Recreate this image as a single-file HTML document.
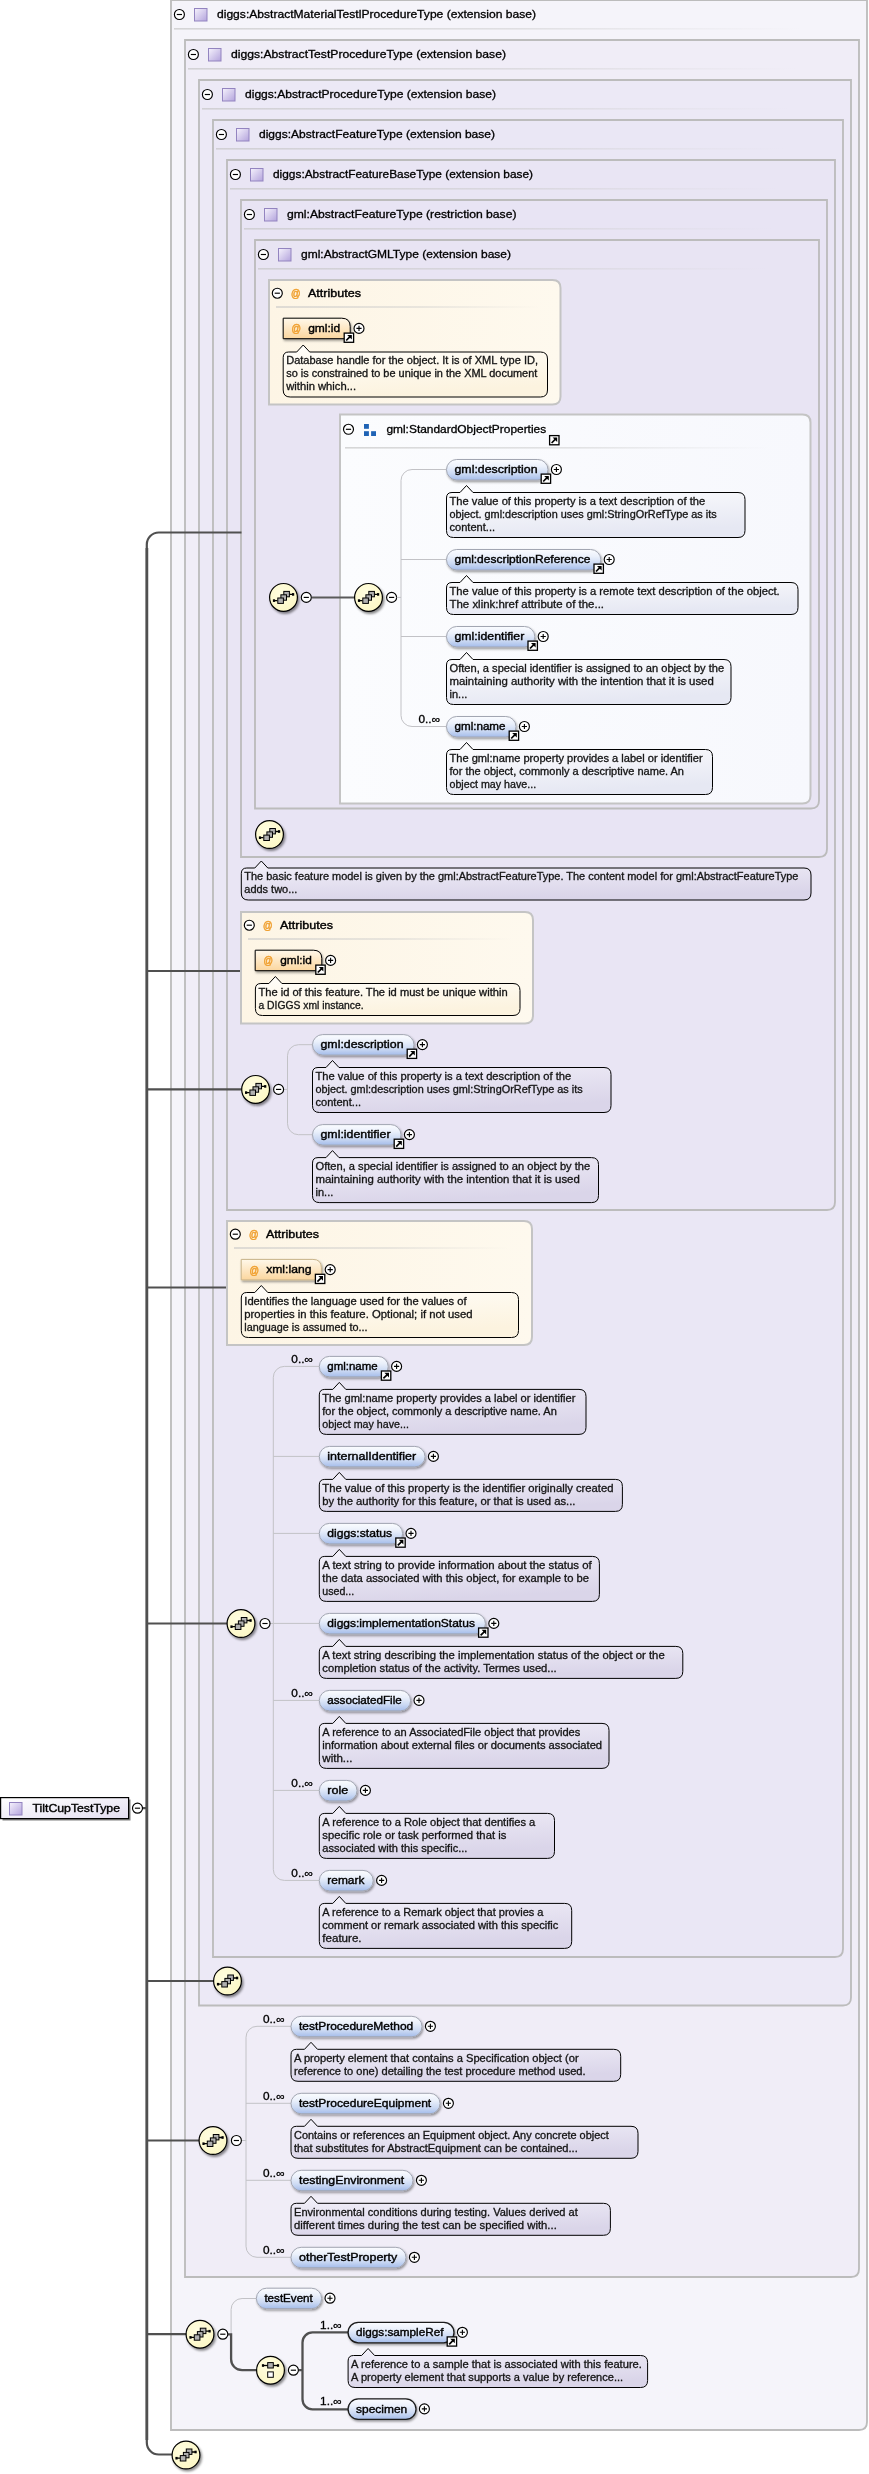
<!DOCTYPE html>
<html><head><meta charset="utf-8"><title>TiltCupTestType</title>
<style>
html,body{margin:0;padding:0;background:#fff;}
svg{display:block;font-family:"Liberation Sans",sans-serif;will-change:transform;}
text{white-space:pre;}
</style></head><body>
<svg width="869" height="2474" viewBox="0 0 869 2474">
<defs>
<linearGradient id="gType" x1="0" y1="0" x2="1" y2="1"><stop offset="0" stop-color="#f6f3fd"/><stop offset="1" stop-color="#b3a3dc"/></linearGradient>
<linearGradient id="gSep" x1="0" y1="0" x2="1" y2="0"><stop offset="0" stop-color="#c6c6c6" stop-opacity="0.7"/><stop offset="0.55" stop-color="#cacaca" stop-opacity="0.5"/><stop offset="1" stop-color="#d0d0d0" stop-opacity="0"/></linearGradient>
<linearGradient id="gElt" x1="0" y1="0" x2="0" y2="1"><stop offset="0" stop-color="#fbfcff"/><stop offset="0.35" stop-color="#eaf0fb"/><stop offset="0.7" stop-color="#cbd9f3"/><stop offset="1" stop-color="#a4bcea"/></linearGradient>
<linearGradient id="gAttr" x1="0" y1="0" x2="0" y2="1"><stop offset="0" stop-color="#fff8ea"/><stop offset="1" stop-color="#fbd69e"/></linearGradient>
<linearGradient id="gAttrBox" x1="0" y1="0" x2="1" y2="0"><stop offset="0" stop-color="#fdf5e5"/><stop offset="1" stop-color="#fef9ee"/></linearGradient>
<linearGradient id="gGroup" x1="0" y1="0" x2="1" y2="0"><stop offset="0" stop-color="#fbfcfe"/><stop offset="1" stop-color="#f7f8fd"/></linearGradient>
<linearGradient id="gAnnP" x1="0" y1="0" x2="0.3" y2="1"><stop offset="0" stop-color="#f3f1fa"/><stop offset="1" stop-color="#dad5e9"/></linearGradient>
<linearGradient id="gAnnY" x1="0" y1="0" x2="0.3" y2="1"><stop offset="0" stop-color="#fffefb"/><stop offset="1" stop-color="#fcf3df"/></linearGradient>
<linearGradient id="gAnnB" x1="0" y1="0" x2="0.3" y2="1"><stop offset="0" stop-color="#ffffff"/><stop offset="1" stop-color="#e6e8f3"/></linearGradient>
<linearGradient id="gRoot" x1="0" y1="0" x2="1" y2="1"><stop offset="0" stop-color="#ffffff"/><stop offset="1" stop-color="#e3def1"/></linearGradient>
<radialGradient id="gComp" cx="0.4" cy="0.35" r="0.8"><stop offset="0" stop-color="#fffde0"/><stop offset="1" stop-color="#fbf6c0"/></radialGradient>
<filter id="sh" x="-30%" y="-30%" width="170%" height="170%"><feDropShadow dx="1.5" dy="2" stdDeviation="1.2" flood-color="#000" flood-opacity="0.45"/></filter>
<filter id="sh2" x="-10%" y="-30%" width="125%" height="190%"><feDropShadow dx="1" dy="1.6" stdDeviation="0.9" flood-color="#000" flood-opacity="0.4"/></filter>
</defs>

<path d="M171 0H867V2422Q867 2430 859 2430H171Z" fill="#f5f4fa" stroke="#bcbcbc" stroke-width="1.85"/>
<path d="M185 40H859V2269Q859 2277 851 2277H185Z" fill="#f0edf7" stroke="#bcbcbc" stroke-width="1.85"/>
<path d="M199 80H851V1997.5Q851 2005.5 843 2005.5H199Z" fill="#ece9f6" stroke="#bcbcbc" stroke-width="1.85"/>
<path d="M213 120H843V1949Q843 1957 835 1957H213Z" fill="#eae7f5" stroke="#bcbcbc" stroke-width="1.85"/>
<path d="M227 160H835V1202Q835 1210 827 1210H227Z" fill="#e9e5f4" stroke="#bcbcbc" stroke-width="1.85"/>
<path d="M241 200H827V849Q827 857 819 857H241Z" fill="#e8e4f4" stroke="#bcbcbc" stroke-width="1.85"/>
<path d="M255 240H819V800.5Q819 808.5 811 808.5H255Z" fill="#e8e4f3" stroke="#bcbcbc" stroke-width="1.85"/>
<path d="M241.5 532.5H158.8A12 12 0 0 0 146.8 544.5V2442.5A12 12 0 0 0 158.8 2454.5H172M146.8 971H240M146.8 1089.4H242M146.8 1287.5H226M146.8 1623.5H227M146.8 1981H214M146.8 2140.5H199M146.8 2334.2H186M142 1808.2H146.8" fill="none" stroke="#505050" stroke-width="2.2"/>
<path d="M146.9 548V2440" fill="none" stroke="#505050" stroke-width="2.7"/>
<g transform="translate(179.40,14.50)"><circle r="5" fill="#fff" stroke="#000" stroke-width="1.15"/><path d="M-2.6 0H2.6" stroke="#000" stroke-width="1.15"/></g>
<rect x="194.50" y="8.50" width="12.5" height="12.5" fill="url(#gType)" stroke="#9384c0" stroke-width="1"/>
<text x="217.00" y="18.00" font-size="11" stroke="#000" stroke-width="0.3" textLength="319.00" lengthAdjust="spacingAndGlyphs">diggs:AbstractMaterialTestlProcedureType (extension base)</text>
<rect x="174" y="28" width="628.2" height="1.6" fill="url(#gSep)"/>
<g transform="translate(193.40,54.50)"><circle r="5" fill="#fff" stroke="#000" stroke-width="1.15"/><path d="M-2.6 0H2.6" stroke="#000" stroke-width="1.15"/></g>
<rect x="208.50" y="48.50" width="12.5" height="12.5" fill="url(#gType)" stroke="#9384c0" stroke-width="1"/>
<text x="231.00" y="58.00" font-size="11" stroke="#000" stroke-width="0.3" textLength="275.00" lengthAdjust="spacingAndGlyphs">diggs:AbstractTestProcedureType (extension base)</text>
<rect x="188" y="68" width="608.4" height="1.6" fill="url(#gSep)"/>
<g transform="translate(207.40,94.50)"><circle r="5" fill="#fff" stroke="#000" stroke-width="1.15"/><path d="M-2.6 0H2.6" stroke="#000" stroke-width="1.15"/></g>
<rect x="222.50" y="88.50" width="12.5" height="12.5" fill="url(#gType)" stroke="#9384c0" stroke-width="1"/>
<text x="245.00" y="98.00" font-size="11" stroke="#000" stroke-width="0.3" textLength="251.00" lengthAdjust="spacingAndGlyphs">diggs:AbstractProcedureType (extension base)</text>
<rect x="202" y="108" width="588.6" height="1.6" fill="url(#gSep)"/>
<g transform="translate(221.40,134.50)"><circle r="5" fill="#fff" stroke="#000" stroke-width="1.15"/><path d="M-2.6 0H2.6" stroke="#000" stroke-width="1.15"/></g>
<rect x="236.50" y="128.50" width="12.5" height="12.5" fill="url(#gType)" stroke="#9384c0" stroke-width="1"/>
<text x="259.00" y="138.00" font-size="11" stroke="#000" stroke-width="0.3" textLength="236.00" lengthAdjust="spacingAndGlyphs">diggs:AbstractFeatureType (extension base)</text>
<rect x="216" y="148" width="568.8" height="1.6" fill="url(#gSep)"/>
<g transform="translate(235.40,174.50)"><circle r="5" fill="#fff" stroke="#000" stroke-width="1.15"/><path d="M-2.6 0H2.6" stroke="#000" stroke-width="1.15"/></g>
<rect x="250.50" y="168.50" width="12.5" height="12.5" fill="url(#gType)" stroke="#9384c0" stroke-width="1"/>
<text x="273.00" y="178.00" font-size="11" stroke="#000" stroke-width="0.3" textLength="260.00" lengthAdjust="spacingAndGlyphs">diggs:AbstractFeatureBaseType (extension base)</text>
<rect x="230" y="188" width="549.0" height="1.6" fill="url(#gSep)"/>
<g transform="translate(249.40,214.50)"><circle r="5" fill="#fff" stroke="#000" stroke-width="1.15"/><path d="M-2.6 0H2.6" stroke="#000" stroke-width="1.15"/></g>
<rect x="264.50" y="208.50" width="12.5" height="12.5" fill="url(#gType)" stroke="#9384c0" stroke-width="1"/>
<text x="287.00" y="218.00" font-size="11" stroke="#000" stroke-width="0.3" textLength="229.50" lengthAdjust="spacingAndGlyphs">gml:AbstractFeatureType (restriction base)</text>
<rect x="244" y="228" width="529.2" height="1.6" fill="url(#gSep)"/>
<g transform="translate(263.40,254.50)"><circle r="5" fill="#fff" stroke="#000" stroke-width="1.15"/><path d="M-2.6 0H2.6" stroke="#000" stroke-width="1.15"/></g>
<rect x="278.50" y="248.50" width="12.5" height="12.5" fill="url(#gType)" stroke="#9384c0" stroke-width="1"/>
<text x="301.00" y="258.00" font-size="11" stroke="#000" stroke-width="0.3" textLength="210.00" lengthAdjust="spacingAndGlyphs">gml:AbstractGMLType (extension base)</text>
<rect x="258" y="268" width="509.4" height="1.6" fill="url(#gSep)"/>
<rect x="2.5" y="1799.5" width="128" height="21" fill="#555" opacity="0.75"/>
<rect x="0.6" y="1797.6" width="128" height="21" fill="url(#gRoot)" stroke="#000" stroke-width="1.2"/>
<rect x="9.50" y="1802.50" width="12.5" height="12.5" fill="url(#gType)" stroke="#9384c0" stroke-width="1"/>
<text x="32.50" y="1812.00" font-size="11" stroke="#000" stroke-width="0.38" textLength="87.50" lengthAdjust="spacingAndGlyphs">TiltCupTestType</text>
<g transform="translate(137.50,1808.20)"><circle r="5" fill="#fff" stroke="#000" stroke-width="1.15"/><path d="M-2.6 0H2.6" stroke="#000" stroke-width="1.15"/></g>
<path d="M269 280H552.5Q560.5 280 560.5 288V396.5Q560.5 404.5 552.5 404.5H269Z" fill="url(#gAttrBox)" stroke="#c4c4c4" stroke-width="2"/>
<g transform="translate(277.30,293.20)"><circle r="5" fill="#fff" stroke="#000" stroke-width="1.15"/><path d="M-2.6 0H2.6" stroke="#000" stroke-width="1.15"/></g>
<text x="291.00" y="297.00" font-size="10.2" textLength="9.5" lengthAdjust="spacingAndGlyphs" fill="#f0a030" stroke="#f0a030" stroke-width="0.5">@</text>
<text x="308.00" y="296.50" font-size="11" stroke="#000" stroke-width="0.38" textLength="53.00" lengthAdjust="spacingAndGlyphs">Attributes</text>
<rect x="276" y="306.2" width="264.2" height="1.6" fill="url(#gSep)"/>
<path d="M283.20 318.20H341.70Q350.20 318.20 350.20 326.70V338.70H283.20Z" fill="url(#gAttr)" stroke="#000" stroke-width="1" filter="url(#sh2)"/>
<text x="291.40" y="332.30" font-size="10.2" textLength="9.5" lengthAdjust="spacingAndGlyphs" fill="#f0a030" stroke="#f0a030" stroke-width="0.5">@</text>
<text x="308.20" y="331.90" font-size="11" stroke="#000" stroke-width="0.38" textLength="32.00" lengthAdjust="spacingAndGlyphs">gml:id</text>
<g transform="translate(343.60,332.50)"><rect x="0.6" y="0.6" width="9.4" height="9.2" fill="#fff" stroke="#000" stroke-width="1.3"/><path d="M2.6 8L7.2 3.4" stroke="#000" stroke-width="1.7" fill="none"/><path d="M3.6 2.4H8.2V7z" fill="#000"/></g>
<g transform="translate(359.00,328.40)"><circle r="5" fill="#fff" stroke="#000" stroke-width="1.15"/><path d="M-2.6 0H2.6M0 -2.6V2.6" stroke="#000" stroke-width="1.1"/></g>
<path d="M288.70 352.00H296.70L303.20 345.00L309.70 352.00H540.50Q547.50 352.00 547.50 359.00V390.00Q547.50 397.00 540.50 397.00H290.20Q283.20 397.00 283.20 390.00V357.50Q283.20 352.00 288.70 352.00Z" fill="url(#gAnnY)" stroke="#000" stroke-width="1"/>
<text x="286.20" y="364.40" font-size="10" stroke="#151515" stroke-width="0.3" textLength="251.80" lengthAdjust="spacingAndGlyphs" fill="#151515">Database handle for the object. It is of XML type ID,</text>
<text x="286.20" y="377.40" font-size="10" stroke="#151515" stroke-width="0.3" textLength="251.10" lengthAdjust="spacingAndGlyphs" fill="#151515">so is constrained to be unique in the XML document</text>
<text x="286.20" y="390.40" font-size="10" stroke="#151515" stroke-width="0.3" textLength="69.90" lengthAdjust="spacingAndGlyphs" fill="#151515">within which...</text>
<path d="M340 414.5H802.5Q810.5 414.5 810.5 422.5V795.5Q810.5 803.5 802.5 803.5H340Z" fill="url(#gGroup)" stroke="#c4c4c4" stroke-width="2"/>
<g transform="translate(348.50,429.30)"><circle r="5" fill="#fff" stroke="#000" stroke-width="1.15"/><path d="M-2.6 0H2.6" stroke="#000" stroke-width="1.15"/></g>
<rect x="364" y="424" width="4.9" height="4.8" fill="#1f63b5"/>
<rect x="364" y="431.2" width="4.9" height="4.8" fill="#1f63b5"/>
<rect x="371.1" y="431.2" width="4.9" height="4.8" fill="#1f63b5"/>
<text x="386.40" y="433.00" font-size="11" stroke="#000" stroke-width="0.3" textLength="159.80" lengthAdjust="spacingAndGlyphs">gml:StandardObjectProperties</text>
<g transform="translate(549.00,435.00)"><rect x="0.6" y="0.6" width="9.4" height="9.2" fill="#fff" stroke="#000" stroke-width="1.3"/><path d="M2.6 8L7.2 3.4" stroke="#000" stroke-width="1.7" fill="none"/><path d="M3.6 2.4H8.2V7z" fill="#000"/></g>
<rect x="345" y="447" width="425.2" height="1.6" fill="url(#gSep)"/>
<path d="M312 597.4H355" stroke="#5a5a5a" stroke-width="2"/>
<g transform="translate(283.50,597.40)"><circle r="13.9" fill="url(#gComp)" stroke="#000" stroke-width="1.2" filter="url(#sh)"/><path d="M-10 3.2H-6M6 -3H10" stroke="#000" stroke-width="1.3"/><rect x="-10.6" y="1.9" width="2.2" height="2.6" fill="#000"/><rect x="8.5" y="-4.3" width="2.2" height="2.6" fill="#000"/><rect x="0.3" y="-6" width="5.6" height="5.4" fill="#b0b0b0" stroke="#000" stroke-width="1"/><rect x="-2.6" y="-2.6" width="5.6" height="5.4" fill="#b0b0b0" stroke="#000" stroke-width="1"/><rect x="-5.7" y="0.6" width="5.6" height="5.4" fill="#b0b0b0" stroke="#000" stroke-width="1"/></g>
<g transform="translate(306.30,597.40)"><circle r="5" fill="#fff" stroke="#000" stroke-width="1.15"/><path d="M-2.6 0H2.6" stroke="#000" stroke-width="1.15"/></g>
<g transform="translate(368.50,597.40)"><circle r="13.9" fill="url(#gComp)" stroke="#000" stroke-width="1.2" filter="url(#sh)"/><path d="M-10 3.2H-6M6 -3H10" stroke="#000" stroke-width="1.3"/><rect x="-10.6" y="1.9" width="2.2" height="2.6" fill="#000"/><rect x="8.5" y="-4.3" width="2.2" height="2.6" fill="#000"/><rect x="0.3" y="-6" width="5.6" height="5.4" fill="#b0b0b0" stroke="#000" stroke-width="1"/><rect x="-2.6" y="-2.6" width="5.6" height="5.4" fill="#b0b0b0" stroke="#000" stroke-width="1"/><rect x="-5.7" y="0.6" width="5.6" height="5.4" fill="#b0b0b0" stroke="#000" stroke-width="1"/></g>
<g transform="translate(391.60,597.40)"><circle r="5" fill="#fff" stroke="#000" stroke-width="1.15"/><path d="M-2.6 0H2.6" stroke="#000" stroke-width="1.15"/></g>
<path d="M446.50 469.50H412.00A11 11 0 0 0 401.00 480.50V715.50A11 11 0 0 0 412.00 726.50H446.50M401.00 559.50H446.50M401.00 636.50H446.50" fill="none" stroke="#c2c2c6" stroke-width="1"/>
<path d="M396.6 597.4H401" stroke="#c2c2c6" stroke-width="1"/>
<rect x="446.50" y="459.50" width="101.50" height="20.5" rx="10.2" fill="url(#gElt)" stroke="#a2a6b2" stroke-width="1" filter="url(#sh2)"/>
<text x="454.50" y="473.10" font-size="11" stroke="#000" stroke-width="0.38" textLength="83.00" lengthAdjust="spacingAndGlyphs">gml:description</text>
<g transform="translate(540.60,473.50)"><rect x="0.6" y="0.6" width="9.4" height="9.2" fill="#fff" stroke="#000" stroke-width="1.3"/><path d="M2.6 8L7.2 3.4" stroke="#000" stroke-width="1.7" fill="none"/><path d="M3.6 2.4H8.2V7z" fill="#000"/></g>
<g transform="translate(556.40,469.50)"><circle r="5" fill="#fff" stroke="#000" stroke-width="1.15"/><path d="M-2.6 0H2.6M0 -2.6V2.6" stroke="#000" stroke-width="1.1"/></g>
<path d="M452.00 492.50H460.00L466.50 485.50L473.00 492.50H738.00Q745.00 492.50 745.00 499.50V530.50Q745.00 537.50 738.00 537.50H453.50Q446.50 537.50 446.50 530.50V498.00Q446.50 492.50 452.00 492.50Z" fill="url(#gAnnB)" stroke="#000" stroke-width="1"/>
<text x="449.50" y="504.90" font-size="10" stroke="#151515" stroke-width="0.3" textLength="255.70" lengthAdjust="spacingAndGlyphs" fill="#151515">The value of this property is a text description of the</text>
<text x="449.50" y="517.90" font-size="10" stroke="#151515" stroke-width="0.3" textLength="267.20" lengthAdjust="spacingAndGlyphs" fill="#151515">object. gml:description uses gml:StringOrRefType as its</text>
<text x="449.50" y="530.90" font-size="10" stroke="#151515" stroke-width="0.3" textLength="45.60" lengthAdjust="spacingAndGlyphs" fill="#151515">content...</text>
<rect x="446.50" y="549.50" width="154.30" height="20.5" rx="10.2" fill="url(#gElt)" stroke="#a2a6b2" stroke-width="1" filter="url(#sh2)"/>
<text x="454.50" y="563.10" font-size="11" stroke="#000" stroke-width="0.38" textLength="135.80" lengthAdjust="spacingAndGlyphs">gml:descriptionReference</text>
<g transform="translate(593.40,563.50)"><rect x="0.6" y="0.6" width="9.4" height="9.2" fill="#fff" stroke="#000" stroke-width="1.3"/><path d="M2.6 8L7.2 3.4" stroke="#000" stroke-width="1.7" fill="none"/><path d="M3.6 2.4H8.2V7z" fill="#000"/></g>
<g transform="translate(609.20,559.50)"><circle r="5" fill="#fff" stroke="#000" stroke-width="1.15"/><path d="M-2.6 0H2.6M0 -2.6V2.6" stroke="#000" stroke-width="1.1"/></g>
<path d="M452.00 582.50H460.00L466.50 575.50L473.00 582.50H791.00Q798.00 582.50 798.00 589.50V607.50Q798.00 614.50 791.00 614.50H453.50Q446.50 614.50 446.50 607.50V588.00Q446.50 582.50 452.00 582.50Z" fill="url(#gAnnB)" stroke="#000" stroke-width="1"/>
<text x="449.50" y="594.90" font-size="10" stroke="#151515" stroke-width="0.3" textLength="330.20" lengthAdjust="spacingAndGlyphs" fill="#151515">The value of this property is a remote text description of the object.</text>
<text x="449.50" y="607.90" font-size="10" stroke="#151515" stroke-width="0.3" textLength="154.50" lengthAdjust="spacingAndGlyphs" fill="#151515">The xlink:href attribute of the...</text>
<rect x="446.50" y="626.50" width="88.30" height="20.5" rx="10.2" fill="url(#gElt)" stroke="#a2a6b2" stroke-width="1" filter="url(#sh2)"/>
<text x="454.50" y="640.10" font-size="11" stroke="#000" stroke-width="0.38" textLength="69.80" lengthAdjust="spacingAndGlyphs">gml:identifier</text>
<g transform="translate(527.40,640.50)"><rect x="0.6" y="0.6" width="9.4" height="9.2" fill="#fff" stroke="#000" stroke-width="1.3"/><path d="M2.6 8L7.2 3.4" stroke="#000" stroke-width="1.7" fill="none"/><path d="M3.6 2.4H8.2V7z" fill="#000"/></g>
<g transform="translate(543.20,636.50)"><circle r="5" fill="#fff" stroke="#000" stroke-width="1.15"/><path d="M-2.6 0H2.6M0 -2.6V2.6" stroke="#000" stroke-width="1.1"/></g>
<path d="M452.00 659.50H460.00L466.50 652.50L473.00 659.50H724.00Q731.00 659.50 731.00 666.50V697.50Q731.00 704.50 724.00 704.50H453.50Q446.50 704.50 446.50 697.50V665.00Q446.50 659.50 452.00 659.50Z" fill="url(#gAnnB)" stroke="#000" stroke-width="1"/>
<text x="449.50" y="671.90" font-size="10" stroke="#151515" stroke-width="0.3" textLength="274.70" lengthAdjust="spacingAndGlyphs" fill="#151515">Often, a special identifier is assigned to an object by the</text>
<text x="449.50" y="684.90" font-size="10" stroke="#151515" stroke-width="0.3" textLength="264.30" lengthAdjust="spacingAndGlyphs" fill="#151515">maintaining authority with the intention that it is used</text>
<text x="449.50" y="697.90" font-size="10" stroke="#151515" stroke-width="0.3" textLength="17.80" lengthAdjust="spacingAndGlyphs" fill="#151515">in...</text>
<rect x="446.50" y="716.50" width="69.50" height="20.5" rx="10.2" fill="url(#gElt)" stroke="#a2a6b2" stroke-width="1" filter="url(#sh2)"/>
<text x="454.50" y="730.10" font-size="11" stroke="#000" stroke-width="0.38" textLength="51.00" lengthAdjust="spacingAndGlyphs">gml:name</text>
<g transform="translate(508.60,730.50)"><rect x="0.6" y="0.6" width="9.4" height="9.2" fill="#fff" stroke="#000" stroke-width="1.3"/><path d="M2.6 8L7.2 3.4" stroke="#000" stroke-width="1.7" fill="none"/><path d="M3.6 2.4H8.2V7z" fill="#000"/></g>
<g transform="translate(524.40,726.50)"><circle r="5" fill="#fff" stroke="#000" stroke-width="1.15"/><path d="M-2.6 0H2.6M0 -2.6V2.6" stroke="#000" stroke-width="1.1"/></g>
<text x="418.50" y="723.00" font-size="10.5" stroke="#000" stroke-width="0.3" textLength="21.60" lengthAdjust="spacingAndGlyphs">0..∞</text>
<path d="M452.00 749.50H460.00L466.50 742.50L473.00 749.50H705.50Q712.50 749.50 712.50 756.50V787.50Q712.50 794.50 705.50 794.50H453.50Q446.50 794.50 446.50 787.50V755.00Q446.50 749.50 452.00 749.50Z" fill="url(#gAnnB)" stroke="#000" stroke-width="1"/>
<text x="449.50" y="761.90" font-size="10" stroke="#151515" stroke-width="0.3" textLength="253.10" lengthAdjust="spacingAndGlyphs" fill="#151515">The gml:name property provides a label or identifier</text>
<text x="449.50" y="774.90" font-size="10" stroke="#151515" stroke-width="0.3" textLength="234.50" lengthAdjust="spacingAndGlyphs" fill="#151515">for the object, commonly a descriptive name. An</text>
<text x="449.50" y="787.90" font-size="10" stroke="#151515" stroke-width="0.3" textLength="86.60" lengthAdjust="spacingAndGlyphs" fill="#151515">object may have...</text>
<g transform="translate(269.50,834.50)"><circle r="13.9" fill="url(#gComp)" stroke="#000" stroke-width="1.2" filter="url(#sh)"/><path d="M-10 3.2H-6M6 -3H10" stroke="#000" stroke-width="1.3"/><rect x="-10.6" y="1.9" width="2.2" height="2.6" fill="#000"/><rect x="8.5" y="-4.3" width="2.2" height="2.6" fill="#000"/><rect x="0.3" y="-6" width="5.6" height="5.4" fill="#b0b0b0" stroke="#000" stroke-width="1"/><rect x="-2.6" y="-2.6" width="5.6" height="5.4" fill="#b0b0b0" stroke="#000" stroke-width="1"/><rect x="-5.7" y="0.6" width="5.6" height="5.4" fill="#b0b0b0" stroke="#000" stroke-width="1"/></g>
<path d="M246.80 868.00H254.80L261.30 861.00L267.80 868.00H804.00Q811.00 868.00 811.00 875.00V893.00Q811.00 900.00 804.00 900.00H248.30Q241.30 900.00 241.30 893.00V873.50Q241.30 868.00 246.80 868.00Z" fill="url(#gAnnP)" stroke="#000" stroke-width="1"/>
<text x="244.30" y="880.40" font-size="10" stroke="#151515" stroke-width="0.3" textLength="554.10" lengthAdjust="spacingAndGlyphs" fill="#151515">The basic feature model is given by the gml:AbstractFeatureType. The content model for gml:AbstractFeatureType</text>
<text x="244.30" y="893.40" font-size="10" stroke="#151515" stroke-width="0.3" textLength="53.00" lengthAdjust="spacingAndGlyphs" fill="#151515">adds two...</text>
<path d="M241 912H525Q533 912 533 920V1015.5Q533 1023.5 525 1023.5H241Z" fill="url(#gAttrBox)" stroke="#c4c4c4" stroke-width="2"/>
<g transform="translate(249.30,925.20)"><circle r="5" fill="#fff" stroke="#000" stroke-width="1.15"/><path d="M-2.6 0H2.6" stroke="#000" stroke-width="1.15"/></g>
<text x="263.00" y="929.00" font-size="10.2" textLength="9.5" lengthAdjust="spacingAndGlyphs" fill="#f0a030" stroke="#f0a030" stroke-width="0.5">@</text>
<text x="280.00" y="928.50" font-size="11" stroke="#000" stroke-width="0.38" textLength="53.00" lengthAdjust="spacingAndGlyphs">Attributes</text>
<rect x="248" y="938.2" width="264.6" height="1.6" fill="url(#gSep)"/>
<path d="M255.20 950.20H313.30Q321.80 950.20 321.80 958.70V970.70H255.20Z" fill="url(#gAttr)" stroke="#000" stroke-width="1" filter="url(#sh2)"/>
<text x="263.40" y="964.30" font-size="10.2" textLength="9.5" lengthAdjust="spacingAndGlyphs" fill="#f0a030" stroke="#f0a030" stroke-width="0.5">@</text>
<text x="280.20" y="963.90" font-size="11" stroke="#000" stroke-width="0.38" textLength="31.60" lengthAdjust="spacingAndGlyphs">gml:id</text>
<g transform="translate(315.20,964.50)"><rect x="0.6" y="0.6" width="9.4" height="9.2" fill="#fff" stroke="#000" stroke-width="1.3"/><path d="M2.6 8L7.2 3.4" stroke="#000" stroke-width="1.7" fill="none"/><path d="M3.6 2.4H8.2V7z" fill="#000"/></g>
<g transform="translate(330.60,960.40)"><circle r="5" fill="#fff" stroke="#000" stroke-width="1.15"/><path d="M-2.6 0H2.6M0 -2.6V2.6" stroke="#000" stroke-width="1.1"/></g>
<path d="M260.90 983.50H268.90L275.40 976.50L281.90 983.50H513.00Q520.00 983.50 520.00 990.50V1008.50Q520.00 1015.50 513.00 1015.50H262.40Q255.40 1015.50 255.40 1008.50V989.00Q255.40 983.50 260.90 983.50Z" fill="url(#gAnnY)" stroke="#000" stroke-width="1"/>
<text x="258.40" y="995.90" font-size="10" stroke="#151515" stroke-width="0.3" textLength="249.20" lengthAdjust="spacingAndGlyphs" fill="#151515">The id of this feature. The id must be unique within</text>
<text x="258.40" y="1008.90" font-size="10" stroke="#151515" stroke-width="0.3" textLength="105.30" lengthAdjust="spacingAndGlyphs" fill="#151515">a DIGGS xml instance.</text>
<path d="M312.50 1044.70H298.50A11 11 0 0 0 287.50 1055.70V1123.70A11 11 0 0 0 298.50 1134.70H312.50" fill="none" stroke="#c2c2c6" stroke-width="1"/>
<path d="M283.5 1089.4H287.5" stroke="#c2c2c6" stroke-width="1"/>
<g transform="translate(255.60,1089.40)"><circle r="13.9" fill="url(#gComp)" stroke="#000" stroke-width="1.2" filter="url(#sh)"/><path d="M-10 3.2H-6M6 -3H10" stroke="#000" stroke-width="1.3"/><rect x="-10.6" y="1.9" width="2.2" height="2.6" fill="#000"/><rect x="8.5" y="-4.3" width="2.2" height="2.6" fill="#000"/><rect x="0.3" y="-6" width="5.6" height="5.4" fill="#b0b0b0" stroke="#000" stroke-width="1"/><rect x="-2.6" y="-2.6" width="5.6" height="5.4" fill="#b0b0b0" stroke="#000" stroke-width="1"/><rect x="-5.7" y="0.6" width="5.6" height="5.4" fill="#b0b0b0" stroke="#000" stroke-width="1"/></g>
<g transform="translate(278.60,1089.40)"><circle r="5" fill="#fff" stroke="#000" stroke-width="1.15"/><path d="M-2.6 0H2.6" stroke="#000" stroke-width="1.15"/></g>
<rect x="312.50" y="1034.60" width="101.50" height="20.5" rx="10.2" fill="url(#gElt)" stroke="#a2a6b2" stroke-width="1" filter="url(#sh2)"/>
<text x="320.50" y="1048.20" font-size="11" stroke="#000" stroke-width="0.38" textLength="83.00" lengthAdjust="spacingAndGlyphs">gml:description</text>
<g transform="translate(406.60,1048.60)"><rect x="0.6" y="0.6" width="9.4" height="9.2" fill="#fff" stroke="#000" stroke-width="1.3"/><path d="M2.6 8L7.2 3.4" stroke="#000" stroke-width="1.7" fill="none"/><path d="M3.6 2.4H8.2V7z" fill="#000"/></g>
<g transform="translate(422.40,1044.60)"><circle r="5" fill="#fff" stroke="#000" stroke-width="1.15"/><path d="M-2.6 0H2.6M0 -2.6V2.6" stroke="#000" stroke-width="1.1"/></g>
<path d="M318.00 1067.50H326.00L332.50 1060.50L339.00 1067.50H604.00Q611.00 1067.50 611.00 1074.50V1105.50Q611.00 1112.50 604.00 1112.50H319.50Q312.50 1112.50 312.50 1105.50V1073.00Q312.50 1067.50 318.00 1067.50Z" fill="url(#gAnnP)" stroke="#000" stroke-width="1"/>
<text x="315.50" y="1079.90" font-size="10" stroke="#151515" stroke-width="0.3" textLength="255.70" lengthAdjust="spacingAndGlyphs" fill="#151515">The value of this property is a text description of the</text>
<text x="315.50" y="1092.90" font-size="10" stroke="#151515" stroke-width="0.3" textLength="267.20" lengthAdjust="spacingAndGlyphs" fill="#151515">object. gml:description uses gml:StringOrRefType as its</text>
<text x="315.50" y="1105.90" font-size="10" stroke="#151515" stroke-width="0.3" textLength="45.60" lengthAdjust="spacingAndGlyphs" fill="#151515">content...</text>
<rect x="312.50" y="1124.60" width="88.50" height="20.5" rx="10.2" fill="url(#gElt)" stroke="#a2a6b2" stroke-width="1" filter="url(#sh2)"/>
<text x="320.50" y="1138.20" font-size="11" stroke="#000" stroke-width="0.38" textLength="70.00" lengthAdjust="spacingAndGlyphs">gml:identifier</text>
<g transform="translate(393.60,1138.60)"><rect x="0.6" y="0.6" width="9.4" height="9.2" fill="#fff" stroke="#000" stroke-width="1.3"/><path d="M2.6 8L7.2 3.4" stroke="#000" stroke-width="1.7" fill="none"/><path d="M3.6 2.4H8.2V7z" fill="#000"/></g>
<g transform="translate(409.40,1134.60)"><circle r="5" fill="#fff" stroke="#000" stroke-width="1.15"/><path d="M-2.6 0H2.6M0 -2.6V2.6" stroke="#000" stroke-width="1.1"/></g>
<path d="M318.00 1157.60H326.00L332.50 1150.60L339.00 1157.60H591.50Q598.50 1157.60 598.50 1164.60V1195.60Q598.50 1202.60 591.50 1202.60H319.50Q312.50 1202.60 312.50 1195.60V1163.10Q312.50 1157.60 318.00 1157.60Z" fill="url(#gAnnP)" stroke="#000" stroke-width="1"/>
<text x="315.50" y="1170.00" font-size="10" stroke="#151515" stroke-width="0.3" textLength="274.70" lengthAdjust="spacingAndGlyphs" fill="#151515">Often, a special identifier is assigned to an object by the</text>
<text x="315.50" y="1183.00" font-size="10" stroke="#151515" stroke-width="0.3" textLength="264.30" lengthAdjust="spacingAndGlyphs" fill="#151515">maintaining authority with the intention that it is used</text>
<text x="315.50" y="1196.00" font-size="10" stroke="#151515" stroke-width="0.3" textLength="17.80" lengthAdjust="spacingAndGlyphs" fill="#151515">in...</text>
<path d="M227 1221H524Q532 1221 532 1229V1337Q532 1345 524 1345H227Z" fill="url(#gAttrBox)" stroke="#c4c4c4" stroke-width="2"/>
<g transform="translate(235.30,1234.20)"><circle r="5" fill="#fff" stroke="#000" stroke-width="1.15"/><path d="M-2.6 0H2.6" stroke="#000" stroke-width="1.15"/></g>
<text x="249.00" y="1238.00" font-size="10.2" textLength="9.5" lengthAdjust="spacingAndGlyphs" fill="#f0a030" stroke="#f0a030" stroke-width="0.5">@</text>
<text x="266.00" y="1237.50" font-size="11" stroke="#000" stroke-width="0.38" textLength="53.00" lengthAdjust="spacingAndGlyphs">Attributes</text>
<rect x="234" y="1247.2" width="276.3" height="1.6" fill="url(#gSep)"/>
<path d="M241.20 1259.40H312.90Q321.40 1259.40 321.40 1267.90V1279.90H241.20Z" fill="url(#gAttr)" stroke="#c9b48a" stroke-width="1" filter="url(#sh2)"/>
<text x="249.40" y="1273.50" font-size="10.2" textLength="9.5" lengthAdjust="spacingAndGlyphs" fill="#f0a030" stroke="#f0a030" stroke-width="0.5">@</text>
<text x="266.20" y="1273.10" font-size="11" stroke="#000" stroke-width="0.38" textLength="45.20" lengthAdjust="spacingAndGlyphs">xml:lang</text>
<g transform="translate(314.80,1273.70)"><rect x="0.6" y="0.6" width="9.4" height="9.2" fill="#fff" stroke="#000" stroke-width="1.3"/><path d="M2.6 8L7.2 3.4" stroke="#000" stroke-width="1.7" fill="none"/><path d="M3.6 2.4H8.2V7z" fill="#000"/></g>
<g transform="translate(330.20,1269.60)"><circle r="5" fill="#fff" stroke="#000" stroke-width="1.15"/><path d="M-2.6 0H2.6M0 -2.6V2.6" stroke="#000" stroke-width="1.1"/></g>
<path d="M246.80 1292.50H254.80L261.30 1285.50L267.80 1292.50H511.50Q518.50 1292.50 518.50 1299.50V1330.50Q518.50 1337.50 511.50 1337.50H248.30Q241.30 1337.50 241.30 1330.50V1298.00Q241.30 1292.50 246.80 1292.50Z" fill="url(#gAnnY)" stroke="#000" stroke-width="1"/>
<text x="244.30" y="1304.90" font-size="10" stroke="#151515" stroke-width="0.3" textLength="222.20" lengthAdjust="spacingAndGlyphs" fill="#151515">Identifies the language used for the values of</text>
<text x="244.30" y="1317.90" font-size="10" stroke="#151515" stroke-width="0.3" textLength="228.30" lengthAdjust="spacingAndGlyphs" fill="#151515">properties in this feature. Optional; if not used</text>
<text x="244.30" y="1330.90" font-size="10" stroke="#151515" stroke-width="0.3" textLength="123.30" lengthAdjust="spacingAndGlyphs" fill="#151515">language is assumed to...</text>
<path d="M319.30 1366.40H284.30A11 11 0 0 0 273.30 1377.40V1869.40A11 11 0 0 0 284.30 1880.40H319.30M273.30 1456.40H319.30M273.30 1533.40H319.30M273.30 1623.40H319.30M273.30 1700.40H319.30M273.30 1790.40H319.30" fill="none" stroke="#c2c2c6" stroke-width="1"/>
<path d="M270 1623.5H273.5" stroke="#c2c2c6" stroke-width="1"/>
<g transform="translate(241.00,1623.50)"><circle r="13.9" fill="url(#gComp)" stroke="#000" stroke-width="1.2" filter="url(#sh)"/><path d="M-10 3.2H-6M6 -3H10" stroke="#000" stroke-width="1.3"/><rect x="-10.6" y="1.9" width="2.2" height="2.6" fill="#000"/><rect x="8.5" y="-4.3" width="2.2" height="2.6" fill="#000"/><rect x="0.3" y="-6" width="5.6" height="5.4" fill="#b0b0b0" stroke="#000" stroke-width="1"/><rect x="-2.6" y="-2.6" width="5.6" height="5.4" fill="#b0b0b0" stroke="#000" stroke-width="1"/><rect x="-5.7" y="0.6" width="5.6" height="5.4" fill="#b0b0b0" stroke="#000" stroke-width="1"/></g>
<g transform="translate(265.00,1623.50)"><circle r="5" fill="#fff" stroke="#000" stroke-width="1.15"/><path d="M-2.6 0H2.6" stroke="#000" stroke-width="1.15"/></g>
<rect x="319.30" y="1356.40" width="68.90" height="20.5" rx="10.2" fill="url(#gElt)" stroke="#a2a6b2" stroke-width="1" filter="url(#sh2)"/>
<text x="327.30" y="1370.00" font-size="11" stroke="#000" stroke-width="0.38" textLength="50.40" lengthAdjust="spacingAndGlyphs">gml:name</text>
<g transform="translate(380.80,1370.40)"><rect x="0.6" y="0.6" width="9.4" height="9.2" fill="#fff" stroke="#000" stroke-width="1.3"/><path d="M2.6 8L7.2 3.4" stroke="#000" stroke-width="1.7" fill="none"/><path d="M3.6 2.4H8.2V7z" fill="#000"/></g>
<g transform="translate(396.60,1366.40)"><circle r="5" fill="#fff" stroke="#000" stroke-width="1.15"/><path d="M-2.6 0H2.6M0 -2.6V2.6" stroke="#000" stroke-width="1.1"/></g>
<text x="291.30" y="1362.90" font-size="10.5" stroke="#000" stroke-width="0.3" textLength="21.60" lengthAdjust="spacingAndGlyphs">0..∞</text>
<path d="M324.80 1389.40H332.80L339.30 1382.40L345.80 1389.40H579.00Q586.00 1389.40 586.00 1396.40V1427.40Q586.00 1434.40 579.00 1434.40H326.30Q319.30 1434.40 319.30 1427.40V1394.90Q319.30 1389.40 324.80 1389.40Z" fill="url(#gAnnP)" stroke="#000" stroke-width="1"/>
<text x="322.30" y="1401.80" font-size="10" stroke="#151515" stroke-width="0.3" textLength="253.10" lengthAdjust="spacingAndGlyphs" fill="#151515">The gml:name property provides a label or identifier</text>
<text x="322.30" y="1414.80" font-size="10" stroke="#151515" stroke-width="0.3" textLength="234.50" lengthAdjust="spacingAndGlyphs" fill="#151515">for the object, commonly a descriptive name. An</text>
<text x="322.30" y="1427.80" font-size="10" stroke="#151515" stroke-width="0.3" textLength="86.60" lengthAdjust="spacingAndGlyphs" fill="#151515">object may have...</text>
<rect x="319.30" y="1446.40" width="105.70" height="20.5" rx="10.2" fill="url(#gElt)" stroke="#a2a6b2" stroke-width="1" filter="url(#sh2)"/>
<text x="327.30" y="1460.00" font-size="11" stroke="#000" stroke-width="0.38" textLength="88.90" lengthAdjust="spacingAndGlyphs">internalIdentifier</text>
<g transform="translate(433.40,1456.40)"><circle r="5" fill="#fff" stroke="#000" stroke-width="1.15"/><path d="M-2.6 0H2.6M0 -2.6V2.6" stroke="#000" stroke-width="1.1"/></g>
<path d="M324.80 1479.40H332.80L339.30 1472.40L345.80 1479.40H615.40Q622.40 1479.40 622.40 1486.40V1504.40Q622.40 1511.40 615.40 1511.40H326.30Q319.30 1511.40 319.30 1504.40V1484.90Q319.30 1479.40 324.80 1479.40Z" fill="url(#gAnnP)" stroke="#000" stroke-width="1"/>
<text x="322.30" y="1491.80" font-size="10" stroke="#151515" stroke-width="0.3" textLength="291.20" lengthAdjust="spacingAndGlyphs" fill="#151515">The value of this property is the identifier originally created</text>
<text x="322.30" y="1504.80" font-size="10" stroke="#151515" stroke-width="0.3" textLength="253.20" lengthAdjust="spacingAndGlyphs" fill="#151515">by the authority for this feature, or that is used as...</text>
<rect x="319.30" y="1523.40" width="83.30" height="20.5" rx="10.2" fill="url(#gElt)" stroke="#a2a6b2" stroke-width="1" filter="url(#sh2)"/>
<text x="327.30" y="1537.00" font-size="11" stroke="#000" stroke-width="0.38" textLength="64.80" lengthAdjust="spacingAndGlyphs">diggs:status</text>
<g transform="translate(395.20,1537.40)"><rect x="0.6" y="0.6" width="9.4" height="9.2" fill="#fff" stroke="#000" stroke-width="1.3"/><path d="M2.6 8L7.2 3.4" stroke="#000" stroke-width="1.7" fill="none"/><path d="M3.6 2.4H8.2V7z" fill="#000"/></g>
<g transform="translate(411.00,1533.40)"><circle r="5" fill="#fff" stroke="#000" stroke-width="1.15"/><path d="M-2.6 0H2.6M0 -2.6V2.6" stroke="#000" stroke-width="1.1"/></g>
<path d="M324.80 1556.40H332.80L339.30 1549.40L345.80 1556.40H592.40Q599.40 1556.40 599.40 1563.40V1594.40Q599.40 1601.40 592.40 1601.40H326.30Q319.30 1601.40 319.30 1594.40V1561.90Q319.30 1556.40 324.80 1556.40Z" fill="url(#gAnnP)" stroke="#000" stroke-width="1"/>
<text x="322.30" y="1568.80" font-size="10" stroke="#151515" stroke-width="0.3" textLength="269.40" lengthAdjust="spacingAndGlyphs" fill="#151515">A text string to provide information about the status of</text>
<text x="322.30" y="1581.80" font-size="10" stroke="#151515" stroke-width="0.3" textLength="266.70" lengthAdjust="spacingAndGlyphs" fill="#151515">the data associated with this object, for example to be</text>
<text x="322.30" y="1594.80" font-size="10" stroke="#151515" stroke-width="0.3" textLength="31.90" lengthAdjust="spacingAndGlyphs" fill="#151515">used...</text>
<rect x="319.30" y="1613.40" width="166.10" height="20.5" rx="10.2" fill="url(#gElt)" stroke="#a2a6b2" stroke-width="1" filter="url(#sh2)"/>
<text x="327.30" y="1627.00" font-size="11" stroke="#000" stroke-width="0.38" textLength="147.60" lengthAdjust="spacingAndGlyphs">diggs:implementationStatus</text>
<g transform="translate(478.00,1627.40)"><rect x="0.6" y="0.6" width="9.4" height="9.2" fill="#fff" stroke="#000" stroke-width="1.3"/><path d="M2.6 8L7.2 3.4" stroke="#000" stroke-width="1.7" fill="none"/><path d="M3.6 2.4H8.2V7z" fill="#000"/></g>
<g transform="translate(493.80,1623.40)"><circle r="5" fill="#fff" stroke="#000" stroke-width="1.15"/><path d="M-2.6 0H2.6M0 -2.6V2.6" stroke="#000" stroke-width="1.1"/></g>
<path d="M324.80 1646.40H332.80L339.30 1639.40L345.80 1646.40H675.80Q682.80 1646.40 682.80 1653.40V1671.40Q682.80 1678.40 675.80 1678.40H326.30Q319.30 1678.40 319.30 1671.40V1651.90Q319.30 1646.40 324.80 1646.40Z" fill="url(#gAnnP)" stroke="#000" stroke-width="1"/>
<text x="322.30" y="1658.80" font-size="10" stroke="#151515" stroke-width="0.3" textLength="342.40" lengthAdjust="spacingAndGlyphs" fill="#151515">A text string describing the implementation status of the object or the</text>
<text x="322.30" y="1671.80" font-size="10" stroke="#151515" stroke-width="0.3" textLength="234.40" lengthAdjust="spacingAndGlyphs" fill="#151515">completion status of the activity. Termes used...</text>
<rect x="319.30" y="1690.40" width="91.30" height="20.5" rx="10.2" fill="url(#gElt)" stroke="#a2a6b2" stroke-width="1" filter="url(#sh2)"/>
<text x="327.30" y="1704.00" font-size="11" stroke="#000" stroke-width="0.38" textLength="74.50" lengthAdjust="spacingAndGlyphs">associatedFile</text>
<g transform="translate(419.00,1700.40)"><circle r="5" fill="#fff" stroke="#000" stroke-width="1.15"/><path d="M-2.6 0H2.6M0 -2.6V2.6" stroke="#000" stroke-width="1.1"/></g>
<text x="291.30" y="1696.90" font-size="10.5" stroke="#000" stroke-width="0.3" textLength="21.60" lengthAdjust="spacingAndGlyphs">0..∞</text>
<path d="M324.80 1723.40H332.80L339.30 1716.40L345.80 1723.40H602.00Q609.00 1723.40 609.00 1730.40V1761.40Q609.00 1768.40 602.00 1768.40H326.30Q319.30 1768.40 319.30 1761.40V1728.90Q319.30 1723.40 324.80 1723.40Z" fill="url(#gAnnP)" stroke="#000" stroke-width="1"/>
<text x="322.30" y="1735.80" font-size="10" stroke="#151515" stroke-width="0.3" textLength="258.00" lengthAdjust="spacingAndGlyphs" fill="#151515">A reference to an AssociatedFile object that provides</text>
<text x="322.30" y="1748.80" font-size="10" stroke="#151515" stroke-width="0.3" textLength="279.80" lengthAdjust="spacingAndGlyphs" fill="#151515">information about external files or documents associated</text>
<text x="322.30" y="1761.80" font-size="10" stroke="#151515" stroke-width="0.3" textLength="30.20" lengthAdjust="spacingAndGlyphs" fill="#151515">with...</text>
<rect x="319.30" y="1780.40" width="37.70" height="20.5" rx="10.2" fill="url(#gElt)" stroke="#a2a6b2" stroke-width="1" filter="url(#sh2)"/>
<text x="327.30" y="1794.00" font-size="11" stroke="#000" stroke-width="0.38" textLength="20.90" lengthAdjust="spacingAndGlyphs">role</text>
<g transform="translate(365.40,1790.40)"><circle r="5" fill="#fff" stroke="#000" stroke-width="1.15"/><path d="M-2.6 0H2.6M0 -2.6V2.6" stroke="#000" stroke-width="1.1"/></g>
<text x="291.30" y="1786.90" font-size="10.5" stroke="#000" stroke-width="0.3" textLength="21.60" lengthAdjust="spacingAndGlyphs">0..∞</text>
<path d="M324.80 1813.40H332.80L339.30 1806.40L345.80 1813.40H547.50Q554.50 1813.40 554.50 1820.40V1851.40Q554.50 1858.40 547.50 1858.40H326.30Q319.30 1858.40 319.30 1851.40V1818.90Q319.30 1813.40 324.80 1813.40Z" fill="url(#gAnnP)" stroke="#000" stroke-width="1"/>
<text x="322.30" y="1825.80" font-size="10" stroke="#151515" stroke-width="0.3" textLength="213.00" lengthAdjust="spacingAndGlyphs" fill="#151515">A reference to a Role object that dentifies a</text>
<text x="322.30" y="1838.80" font-size="10" stroke="#151515" stroke-width="0.3" textLength="184.00" lengthAdjust="spacingAndGlyphs" fill="#151515">specific role or task performed that is</text>
<text x="322.30" y="1851.80" font-size="10" stroke="#151515" stroke-width="0.3" textLength="145.10" lengthAdjust="spacingAndGlyphs" fill="#151515">associated with this specific...</text>
<rect x="319.30" y="1870.40" width="53.90" height="20.5" rx="10.2" fill="url(#gElt)" stroke="#a2a6b2" stroke-width="1" filter="url(#sh2)"/>
<text x="327.30" y="1884.00" font-size="11" stroke="#000" stroke-width="0.38" textLength="37.10" lengthAdjust="spacingAndGlyphs">remark</text>
<g transform="translate(381.60,1880.40)"><circle r="5" fill="#fff" stroke="#000" stroke-width="1.15"/><path d="M-2.6 0H2.6M0 -2.6V2.6" stroke="#000" stroke-width="1.1"/></g>
<text x="291.30" y="1876.90" font-size="10.5" stroke="#000" stroke-width="0.3" textLength="21.60" lengthAdjust="spacingAndGlyphs">0..∞</text>
<path d="M324.80 1903.40H332.80L339.30 1896.40L345.80 1903.40H564.70Q571.70 1903.40 571.70 1910.40V1941.40Q571.70 1948.40 564.70 1948.40H326.30Q319.30 1948.40 319.30 1941.40V1908.90Q319.30 1903.40 324.80 1903.40Z" fill="url(#gAnnP)" stroke="#000" stroke-width="1"/>
<text x="322.30" y="1915.80" font-size="10" stroke="#151515" stroke-width="0.3" textLength="221.20" lengthAdjust="spacingAndGlyphs" fill="#151515">A reference to a Remark object that provies a</text>
<text x="322.30" y="1928.80" font-size="10" stroke="#151515" stroke-width="0.3" textLength="236.10" lengthAdjust="spacingAndGlyphs" fill="#151515">comment or remark associated with this specific</text>
<text x="322.30" y="1941.80" font-size="10" stroke="#151515" stroke-width="0.3" textLength="39.30" lengthAdjust="spacingAndGlyphs" fill="#151515">feature.</text>
<g transform="translate(227.50,1981.00)"><circle r="13.9" fill="url(#gComp)" stroke="#000" stroke-width="1.2" filter="url(#sh)"/><path d="M-10 3.2H-6M6 -3H10" stroke="#000" stroke-width="1.3"/><rect x="-10.6" y="1.9" width="2.2" height="2.6" fill="#000"/><rect x="8.5" y="-4.3" width="2.2" height="2.6" fill="#000"/><rect x="0.3" y="-6" width="5.6" height="5.4" fill="#b0b0b0" stroke="#000" stroke-width="1"/><rect x="-2.6" y="-2.6" width="5.6" height="5.4" fill="#b0b0b0" stroke="#000" stroke-width="1"/><rect x="-5.7" y="0.6" width="5.6" height="5.4" fill="#b0b0b0" stroke="#000" stroke-width="1"/></g>
<path d="M291.00 2026.30H257.00A11 11 0 0 0 246.00 2037.30V2246.30A11 11 0 0 0 257.00 2257.30H291.00M246.00 2103.30H291.00M246.00 2180.30H291.00" fill="none" stroke="#c2c2c6" stroke-width="1"/>
<path d="M241.5 2140.5H246.2" stroke="#c2c2c6" stroke-width="1"/>
<g transform="translate(213.00,2140.50)"><circle r="13.9" fill="url(#gComp)" stroke="#000" stroke-width="1.2" filter="url(#sh)"/><path d="M-10 3.2H-6M6 -3H10" stroke="#000" stroke-width="1.3"/><rect x="-10.6" y="1.9" width="2.2" height="2.6" fill="#000"/><rect x="8.5" y="-4.3" width="2.2" height="2.6" fill="#000"/><rect x="0.3" y="-6" width="5.6" height="5.4" fill="#b0b0b0" stroke="#000" stroke-width="1"/><rect x="-2.6" y="-2.6" width="5.6" height="5.4" fill="#b0b0b0" stroke="#000" stroke-width="1"/><rect x="-5.7" y="0.6" width="5.6" height="5.4" fill="#b0b0b0" stroke="#000" stroke-width="1"/></g>
<g transform="translate(236.40,2140.50)"><circle r="5" fill="#fff" stroke="#000" stroke-width="1.15"/><path d="M-2.6 0H2.6" stroke="#000" stroke-width="1.15"/></g>
<rect x="291.00" y="2016.30" width="131.00" height="20.5" rx="10.2" fill="url(#gElt)" stroke="#a2a6b2" stroke-width="1" filter="url(#sh2)"/>
<text x="299.00" y="2029.90" font-size="11" stroke="#000" stroke-width="0.38" textLength="114.20" lengthAdjust="spacingAndGlyphs">testProcedureMethod</text>
<g transform="translate(430.40,2026.30)"><circle r="5" fill="#fff" stroke="#000" stroke-width="1.15"/><path d="M-2.6 0H2.6M0 -2.6V2.6" stroke="#000" stroke-width="1.1"/></g>
<text x="263.00" y="2022.80" font-size="10.5" stroke="#000" stroke-width="0.3" textLength="21.60" lengthAdjust="spacingAndGlyphs">0..∞</text>
<path d="M296.50 2049.30H304.50L311.00 2042.30L317.50 2049.30H613.70Q620.70 2049.30 620.70 2056.30V2074.30Q620.70 2081.30 613.70 2081.30H298.00Q291.00 2081.30 291.00 2074.30V2054.80Q291.00 2049.30 296.50 2049.30Z" fill="url(#gAnnP)" stroke="#000" stroke-width="1"/>
<text x="294.00" y="2061.70" font-size="10" stroke="#151515" stroke-width="0.3" textLength="284.60" lengthAdjust="spacingAndGlyphs" fill="#151515">A property element that contains a Specification object (or</text>
<text x="294.00" y="2074.70" font-size="10" stroke="#151515" stroke-width="0.3" textLength="291.60" lengthAdjust="spacingAndGlyphs" fill="#151515">reference to one) detailing the test procedure method used.</text>
<rect x="291.00" y="2093.30" width="149.00" height="20.5" rx="10.2" fill="url(#gElt)" stroke="#a2a6b2" stroke-width="1" filter="url(#sh2)"/>
<text x="299.00" y="2106.90" font-size="11" stroke="#000" stroke-width="0.38" textLength="132.20" lengthAdjust="spacingAndGlyphs">testProcedureEquipment</text>
<g transform="translate(448.40,2103.30)"><circle r="5" fill="#fff" stroke="#000" stroke-width="1.15"/><path d="M-2.6 0H2.6M0 -2.6V2.6" stroke="#000" stroke-width="1.1"/></g>
<text x="263.00" y="2099.80" font-size="10.5" stroke="#000" stroke-width="0.3" textLength="21.60" lengthAdjust="spacingAndGlyphs">0..∞</text>
<path d="M296.50 2126.30H304.50L311.00 2119.30L317.50 2126.30H631.00Q638.00 2126.30 638.00 2133.30V2151.30Q638.00 2158.30 631.00 2158.30H298.00Q291.00 2158.30 291.00 2151.30V2131.80Q291.00 2126.30 296.50 2126.30Z" fill="url(#gAnnP)" stroke="#000" stroke-width="1"/>
<text x="294.00" y="2138.70" font-size="10" stroke="#151515" stroke-width="0.3" textLength="314.80" lengthAdjust="spacingAndGlyphs" fill="#151515">Contains or references an Equipment object. Any concrete object</text>
<text x="294.00" y="2151.70" font-size="10" stroke="#151515" stroke-width="0.3" textLength="283.80" lengthAdjust="spacingAndGlyphs" fill="#151515">that substitutes for AbstractEquipment can be contained...</text>
<rect x="291.00" y="2170.30" width="122.00" height="20.5" rx="10.2" fill="url(#gElt)" stroke="#a2a6b2" stroke-width="1" filter="url(#sh2)"/>
<text x="299.00" y="2183.90" font-size="11" stroke="#000" stroke-width="0.38" textLength="105.20" lengthAdjust="spacingAndGlyphs">testingEnvironment</text>
<g transform="translate(421.40,2180.30)"><circle r="5" fill="#fff" stroke="#000" stroke-width="1.15"/><path d="M-2.6 0H2.6M0 -2.6V2.6" stroke="#000" stroke-width="1.1"/></g>
<text x="263.00" y="2176.80" font-size="10.5" stroke="#000" stroke-width="0.3" textLength="21.60" lengthAdjust="spacingAndGlyphs">0..∞</text>
<path d="M296.50 2203.30H304.50L311.00 2196.30L317.50 2203.30H603.40Q610.40 2203.30 610.40 2210.30V2228.30Q610.40 2235.30 603.40 2235.30H298.00Q291.00 2235.30 291.00 2228.30V2208.80Q291.00 2203.30 296.50 2203.30Z" fill="url(#gAnnP)" stroke="#000" stroke-width="1"/>
<text x="294.00" y="2215.70" font-size="10" stroke="#151515" stroke-width="0.3" textLength="283.80" lengthAdjust="spacingAndGlyphs" fill="#151515">Environmental conditions during testing. Values derived at</text>
<text x="294.00" y="2228.70" font-size="10" stroke="#151515" stroke-width="0.3" textLength="262.80" lengthAdjust="spacingAndGlyphs" fill="#151515">different times during the test can be specified with...</text>
<rect x="291.00" y="2247.30" width="115.00" height="20.5" rx="10.2" fill="url(#gElt)" stroke="#a2a6b2" stroke-width="1" filter="url(#sh2)"/>
<text x="299.00" y="2260.90" font-size="11" stroke="#000" stroke-width="0.38" textLength="98.20" lengthAdjust="spacingAndGlyphs">otherTestProperty</text>
<g transform="translate(414.40,2257.30)"><circle r="5" fill="#fff" stroke="#000" stroke-width="1.15"/><path d="M-2.6 0H2.6M0 -2.6V2.6" stroke="#000" stroke-width="1.1"/></g>
<text x="263.00" y="2253.80" font-size="10.5" stroke="#000" stroke-width="0.3" textLength="21.60" lengthAdjust="spacingAndGlyphs">0..∞</text>
<path d="M256.5 2298.5H242.1A11 11 0 0 0 231.1 2309.5V2334" fill="none" stroke="#c2c2c6" stroke-width="1"/>
<path d="M228 2334.3H231.1V2359.2A11 11 0 0 0 242.1 2370.2H257" fill="none" stroke="#505050" stroke-width="2.3"/>
<path d="M348.5 2332.4H312.5A10 10 0 0 0 302.5 2342.4V2399.3A10 10 0 0 0 312.5 2409.3H348.5M298.5 2370.2H302.5" fill="none" stroke="#505050" stroke-width="2.3"/>
<g transform="translate(200.00,2334.20)"><circle r="13.9" fill="url(#gComp)" stroke="#000" stroke-width="1.2" filter="url(#sh)"/><path d="M-10 3.2H-6M6 -3H10" stroke="#000" stroke-width="1.3"/><rect x="-10.6" y="1.9" width="2.2" height="2.6" fill="#000"/><rect x="8.5" y="-4.3" width="2.2" height="2.6" fill="#000"/><rect x="0.3" y="-6" width="5.6" height="5.4" fill="#b0b0b0" stroke="#000" stroke-width="1"/><rect x="-2.6" y="-2.6" width="5.6" height="5.4" fill="#b0b0b0" stroke="#000" stroke-width="1"/><rect x="-5.7" y="0.6" width="5.6" height="5.4" fill="#b0b0b0" stroke="#000" stroke-width="1"/></g>
<g transform="translate(222.80,2334.20)"><circle r="5" fill="#fff" stroke="#000" stroke-width="1.15"/><path d="M-2.6 0H2.6" stroke="#000" stroke-width="1.15"/></g>
<g transform="translate(270.50,2370.20)"><circle r="13.9" fill="url(#gComp)" stroke="#000" stroke-width="1.2" filter="url(#sh)"/><path d="M-7.5 -4.7H7.5" stroke="#000" stroke-width="1.3"/><rect x="-8.6" y="-6" width="2.2" height="2.6" fill="#000"/><rect x="6.4" y="-6" width="2.2" height="2.6" fill="#000"/><rect x="-2.8" y="-7.6" width="5.6" height="5.4" fill="#b0b0b0" stroke="#000" stroke-width="1"/><rect x="-2.8" y="1.7" width="5.6" height="5.4" fill="#fff" stroke="#000" stroke-width="1"/></g>
<g transform="translate(293.40,2370.20)"><circle r="5" fill="#fff" stroke="#000" stroke-width="1.15"/><path d="M-2.6 0H2.6" stroke="#000" stroke-width="1.15"/></g>
<rect x="256.40" y="2288.20" width="65.20" height="20.5" rx="10.2" fill="url(#gElt)" stroke="#a2a6b2" stroke-width="1" filter="url(#sh2)"/>
<text x="264.40" y="2301.80" font-size="11" stroke="#000" stroke-width="0.38" textLength="48.40" lengthAdjust="spacingAndGlyphs">testEvent</text>
<g transform="translate(330.00,2298.20)"><circle r="5" fill="#fff" stroke="#000" stroke-width="1.15"/><path d="M-2.6 0H2.6M0 -2.6V2.6" stroke="#000" stroke-width="1.1"/></g>
<rect x="348.10" y="2322.30" width="105.90" height="20.5" rx="10.2" fill="url(#gElt)" stroke="#1a1a1a" stroke-width="1.3" filter="url(#sh2)"/>
<text x="356.10" y="2335.90" font-size="11" stroke="#000" stroke-width="0.38" textLength="87.40" lengthAdjust="spacingAndGlyphs">diggs:sampleRef</text>
<g transform="translate(446.60,2336.30)"><rect x="0.6" y="0.6" width="9.4" height="9.2" fill="#fff" stroke="#000" stroke-width="1.3"/><path d="M2.6 8L7.2 3.4" stroke="#000" stroke-width="1.7" fill="none"/><path d="M3.6 2.4H8.2V7z" fill="#000"/></g>
<g transform="translate(462.40,2332.30)"><circle r="5" fill="#fff" stroke="#000" stroke-width="1.15"/><path d="M-2.6 0H2.6M0 -2.6V2.6" stroke="#000" stroke-width="1.1"/></g>
<text x="320.10" y="2328.80" font-size="10.5" stroke="#000" stroke-width="0.3" textLength="21.60" lengthAdjust="spacingAndGlyphs">1..∞</text>
<path d="M353.60 2355.50H361.60L368.10 2348.50L374.60 2355.50H640.60Q647.60 2355.50 647.60 2362.50V2380.50Q647.60 2387.50 640.60 2387.50H355.10Q348.10 2387.50 348.10 2380.50V2361.00Q348.10 2355.50 353.60 2355.50Z" fill="url(#gAnnP)" stroke="#000" stroke-width="1"/>
<text x="351.10" y="2367.90" font-size="10" stroke="#151515" stroke-width="0.3" textLength="290.80" lengthAdjust="spacingAndGlyphs" fill="#151515">A reference to a sample that is associated with this feature.</text>
<text x="351.10" y="2380.90" font-size="10" stroke="#151515" stroke-width="0.3" textLength="272.00" lengthAdjust="spacingAndGlyphs" fill="#151515">A property element that supports a value by reference...</text>
<rect x="348.10" y="2398.90" width="67.90" height="20.5" rx="10.2" fill="url(#gElt)" stroke="#1a1a1a" stroke-width="1.3" filter="url(#sh2)"/>
<text x="356.10" y="2412.50" font-size="11" stroke="#000" stroke-width="0.38" textLength="51.10" lengthAdjust="spacingAndGlyphs">specimen</text>
<g transform="translate(424.40,2408.90)"><circle r="5" fill="#fff" stroke="#000" stroke-width="1.15"/><path d="M-2.6 0H2.6M0 -2.6V2.6" stroke="#000" stroke-width="1.1"/></g>
<text x="320.10" y="2405.40" font-size="10.5" stroke="#000" stroke-width="0.3" textLength="21.60" lengthAdjust="spacingAndGlyphs">1..∞</text>
<g transform="translate(186.00,2455.00)"><circle r="13.9" fill="url(#gComp)" stroke="#000" stroke-width="1.2" filter="url(#sh)"/><path d="M-10 3.2H-6M6 -3H10" stroke="#000" stroke-width="1.3"/><rect x="-10.6" y="1.9" width="2.2" height="2.6" fill="#000"/><rect x="8.5" y="-4.3" width="2.2" height="2.6" fill="#000"/><rect x="0.3" y="-6" width="5.6" height="5.4" fill="#b0b0b0" stroke="#000" stroke-width="1"/><rect x="-2.6" y="-2.6" width="5.6" height="5.4" fill="#b0b0b0" stroke="#000" stroke-width="1"/><rect x="-5.7" y="0.6" width="5.6" height="5.4" fill="#b0b0b0" stroke="#000" stroke-width="1"/></g>
</svg>
</body></html>
